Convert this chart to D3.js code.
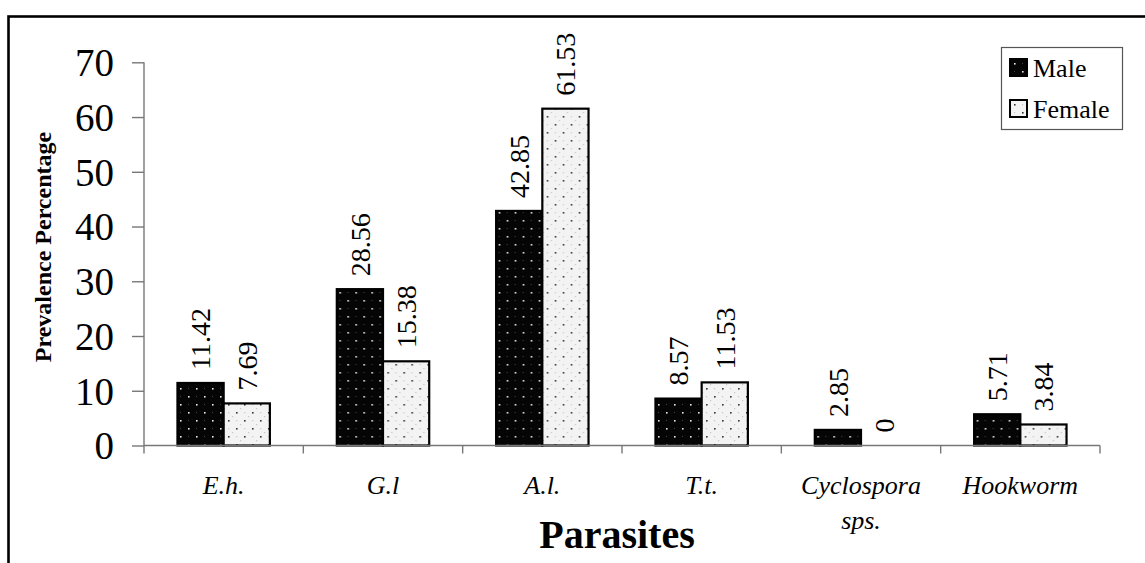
<!DOCTYPE html>
<html>
<head>
<meta charset="utf-8">
<script src="https://cdn.jsdelivr.net/npm/d3@7"></script>
<style>
  html, body { margin: 0; padding: 0; background: #fff; }
  svg { display: block; }
</style>
</head>
<body>
<svg id="chart" width="1145" height="563"></svg>
<script>
const categories = ["E.h.", "G.l", "A.l.", "T.t.", "Cyclospora sps.", "Hookworm"];
const seriesNames = ["Male", "Female"];
const maleValues = [11.42, 28.56, 42.85, 8.57, 2.85, 5.71];
const femaleValues = [7.69, 15.38, 61.53, 11.53, 0, 3.84];
const yTicks = [0, 10, 20, 30, 40, 50, 60, 70];

const svg = d3.select("#chart");
const serif = "'Liberation Serif', 'Times New Roman', Times, serif";

// patterns
const defs = svg.append("defs");
const pm = defs.append("pattern").attr("id", "patMale").attr("patternUnits", "userSpaceOnUse")
  .attr("width", 16).attr("height", 16);
pm.append("rect").attr("width", 16).attr("height", 16).attr("fill", "#050505");
[[4,4],[12,12]].forEach(([x,y]) => pm.append("rect").attr("x", x).attr("y", y).attr("width", 1.6).attr("height", 1.6).attr("fill", "#e8e8e8"));
[[12,4],[4,12]].forEach(([x,y]) => pm.append("rect").attr("x", x).attr("y", y).attr("width", 1).attr("height", 1).attr("fill", "#444"));

const pf = defs.append("pattern").attr("id", "patFemale").attr("patternUnits", "userSpaceOnUse")
  .attr("width", 16).attr("height", 16);
pf.append("rect").attr("width", 16).attr("height", 16).attr("fill", "#f3f3f3");
[[4,4],[12,12]].forEach(([x,y]) => pf.append("rect").attr("x", x).attr("y", y).attr("width", 1.6).attr("height", 1.6).attr("fill", "#333"));
[[12,4],[4,12],[8,0],[0,8]].forEach(([x,y]) => pf.append("rect").attr("x", x).attr("y", y).attr("width", 1.2).attr("height", 1.2).attr("fill", "#c8c8c8"));

const fills = { Male: "url(#patMale)", Female: "url(#patFemale)" };

// outer border
svg.append("rect").attr("x", 8.5).attr("y", 16.5).attr("width", 1145).attr("height", 600)
  .attr("fill", "none").attr("stroke", "#000").attr("stroke-width", 2.6);

const x0 = d3.scaleBand().domain(categories).range([144, 1100]).paddingInner(0).paddingOuter(0);
const x1 = d3.scaleBand().domain(seriesNames)
  .range([x0.bandwidth() * 0.21, x0.bandwidth() * 0.79]);
const y = d3.scaleLinear().domain([0, 70]).range([445.5, 62.3]);

const data = categories.map((c, i) => ({ cat: c, vals: [
  { s: "Male", v: maleValues[i] }, { s: "Female", v: femaleValues[i] } ] }));

// bars
const groups = svg.append("g").selectAll("g").data(data).join("g")
  .attr("transform", d => `translate(${x0(d.cat)},0)`);
groups.selectAll("rect").data(d => d.vals.filter(e => e.v > 0)).join("rect")
  .attr("x", d => x1(d.s))
  .attr("y", d => y(d.v))
  .attr("width", x1.bandwidth())
  .attr("height", d => y(0) - y(d.v))
  .attr("fill", d => fills[d.s])
  .attr("stroke", "#000").attr("stroke-width", 2.2);

// value labels
groups.selectAll("text").data(d => d.vals).join("text")
  .attr("transform", d => `translate(${x1(d.s) + x1.bandwidth() / 2},${y(d.v) - 13}) rotate(-90)`)
  .attr("dy", "0.35em")
  .attr("text-anchor", "start")
  .attr("font-family", serif).attr("font-size", 28)
  .attr("fill", "#000")
  .text(d => String(d.v));

// y axis
const yAxis = svg.append("g").attr("transform", "translate(144,0)")
  .call(d3.axisLeft(y).tickValues(yTicks).tickSize(12).tickPadding(18).tickFormat(d3.format("d")));
yAxis.select(".domain").attr("stroke", "#777").attr("stroke-width", 1.4).attr("d", `M-0,${y(70)}V${y(0) + 8}`);
yAxis.selectAll(".tick line").attr("stroke", "#777").attr("stroke-width", 1.4);
yAxis.selectAll(".tick text").attr("font-family", serif).attr("font-size", 39).attr("fill", "#000").attr("dy", "0.34em");

// x axis line and ticks
const xg = svg.append("g");
xg.append("line").attr("x1", 144).attr("x2", 1100).attr("y1", y(0)).attr("y2", y(0))
  .attr("stroke", "#777").attr("stroke-width", 1.4);
const bounds = categories.map(c => x0(c)).concat([x0(categories[categories.length - 1]) + x0.bandwidth()]);
xg.selectAll("line.tk").data(bounds.slice(1)).join("line").attr("class", "tk")
  .attr("x1", d => d).attr("x2", d => d).attr("y1", y(0)).attr("y2", y(0) + 8)
  .attr("stroke", "#777").attr("stroke-width", 1.4);

// category labels
const catText = xg.selectAll("text.cat").data(categories).join("text").attr("class", "cat")
  .attr("x", d => x0(d) + x0.bandwidth() / 2)
  .attr("y", 494)
  .attr("text-anchor", "middle")
  .attr("font-family", serif).attr("font-style", "italic").attr("font-size", 26)
  .attr("fill", "#000");
catText.each(function(d) {
  const parts = d === "Cyclospora sps." ? ["Cyclospora", "sps."] : [d];
  const t = d3.select(this);
  parts.forEach((p, i) => t.append("tspan").attr("x", x0(d) + x0.bandwidth() / 2).attr("dy", i === 0 ? 0 : 35).text(p));
});

// axis titles
svg.append("text").attr("x", 617).attr("y", 548).attr("text-anchor", "middle")
  .attr("font-family", serif).attr("font-weight", "bold").attr("font-size", 40).text("Parasites");
svg.append("text").attr("transform", "translate(43,247) rotate(-90)").attr("text-anchor", "middle")
  .attr("dy", "0.35em")
  .attr("font-family", serif).attr("font-weight", "bold").attr("font-size", 24).text("Prevalence Percentage");

// legend
const lg = svg.append("g");
lg.append("rect").attr("x", 1001.5).attr("y", 47.5).attr("width", 121).attr("height", 82)
  .attr("fill", "#fff").attr("stroke", "#555").attr("stroke-width", 1.2);
const rows = lg.selectAll("g").data(seriesNames).join("g")
  .attr("transform", (d, i) => `translate(1010,${59 + i * 41})`);
rows.append("rect").attr("width", 17).attr("height", 17).attr("fill", d => fills[d])
  .attr("stroke", "#000").attr("stroke-width", 2);
rows.append("text").attr("x", 23).attr("y", 9).attr("dy", "0.35em")
  .attr("font-family", serif).attr("font-size", 26).text(d => d);
</script>
</body>
</html>
